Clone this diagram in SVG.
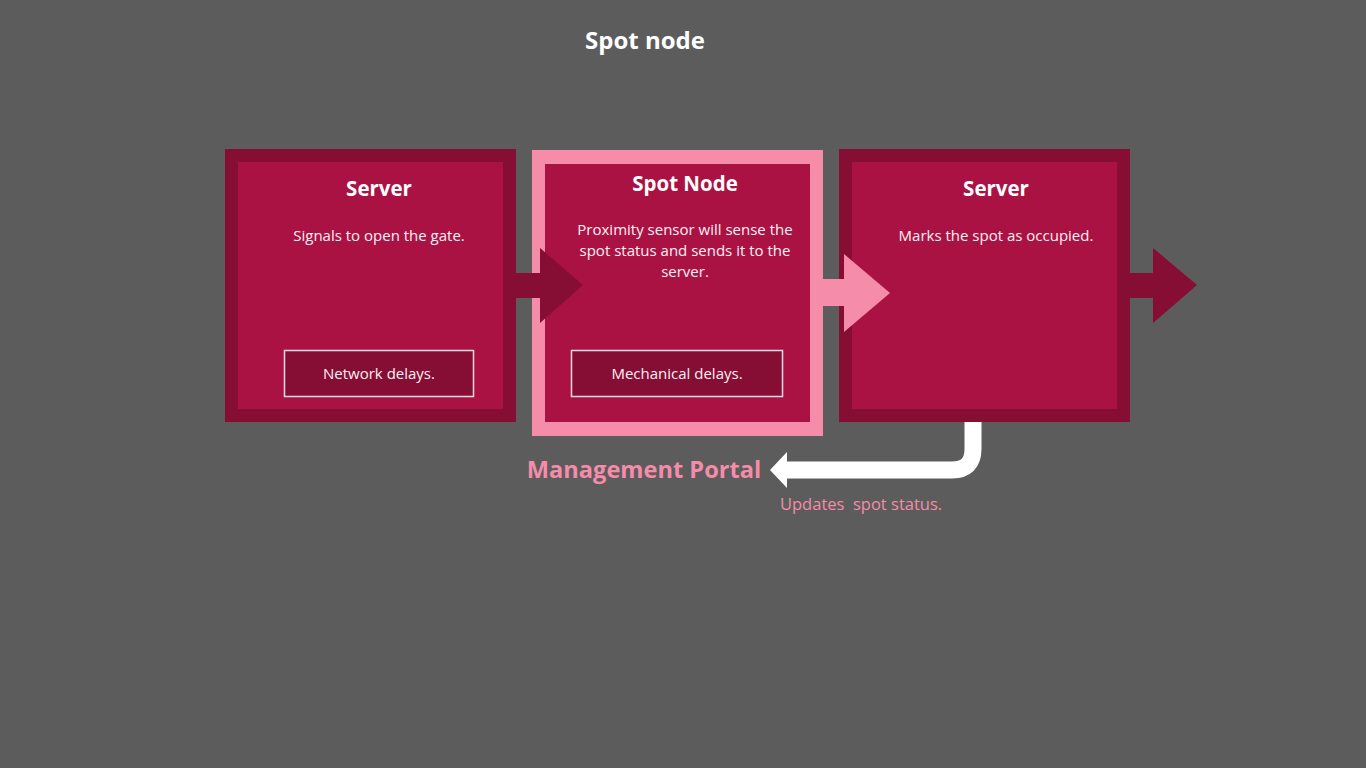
<svg xmlns="http://www.w3.org/2000/svg" width="1366" height="768" viewBox="0 0 1366 768">
<style>
.t{font-family:"Open Sans","Liberation Sans",sans-serif;fill:#fff;text-anchor:middle}
.h{font-size:20.5px;font-weight:700}
.b{font-size:15px;fill:#fdf0f3}
.dark{fill:#860d33}
.in{fill:#ab1244}
.pink{fill:#f48caa}
.sub{fill:#860d33;stroke:#f3dbe2;stroke-width:1.5}
</style>
<rect width="1366" height="768" fill="#5c5c5c"/>
<text class="t" x="645" y="49" font-size="24" font-weight="700">Spot node</text>
<g id="server1">
<rect class="dark" x="225" y="149" width="291" height="273"/>
<rect class="in" x="238" y="162" width="265" height="247"/>
<text class="t h" x="379" y="196">Server</text>
<text class="t b" x="379" y="241">Signals to open the gate.</text>
<rect class="sub" x="284.5" y="350.5" width="189" height="46"/>
<text class="t b" x="379" y="379">Network delays.</text>
</g>
<g id="spotnode">
<rect class="pink" x="532" y="150" width="291" height="286"/>
<rect class="in" x="545" y="164" width="265" height="258"/>
<text class="t h" x="685" y="191">Spot Node</text>
<text class="t b" x="685" y="235">Proximity sensor will sense the</text>
<text class="t b" x="685" y="256">spot status and sends it to the</text>
<text class="t b" x="685" y="277">server.</text>
<rect class="sub" x="571.5" y="350.5" width="211" height="46"/>
<text class="t b" x="677" y="379">Mechanical delays.</text>
</g>
<g id="server2">
<rect class="dark" x="839" y="149" width="291" height="273"/>
<rect class="in" x="852" y="162" width="265" height="247"/>
<text class="t h" x="996" y="196">Server</text>
<text class="t b" x="996" y="241">Marks the spot as occupied.</text>
</g>
<g id="portal">
<text class="t" x="644" y="478" font-size="23.6" font-weight="700" style="fill:#f48caa">Management Portal</text>
</g>
<g id="connectors">
<polygon class="dark" points="516,273 540,273 540,248 583,285 540,323 540,298 516,298"/>
<polygon class="pink" points="823,279 844,279 844,254 890,293 844,332 844,306 823,306"/>
<polygon class="dark" points="1130,273 1153,273 1153,248 1197,285 1153,323 1153,298 1130,298"/>
<path d="M973 422 V449 Q973 470 952 470 H784" fill="none" stroke="#fff" stroke-width="17"/>
<polygon fill="#fff" points="770,470 787,452 787,488"/>
<text x="780" y="510" font-family="Open Sans, Liberation Sans, sans-serif" font-size="16.5" fill="#f48caa" xml:space="preserve">Updates  spot status.</text>
</g>
</svg>
